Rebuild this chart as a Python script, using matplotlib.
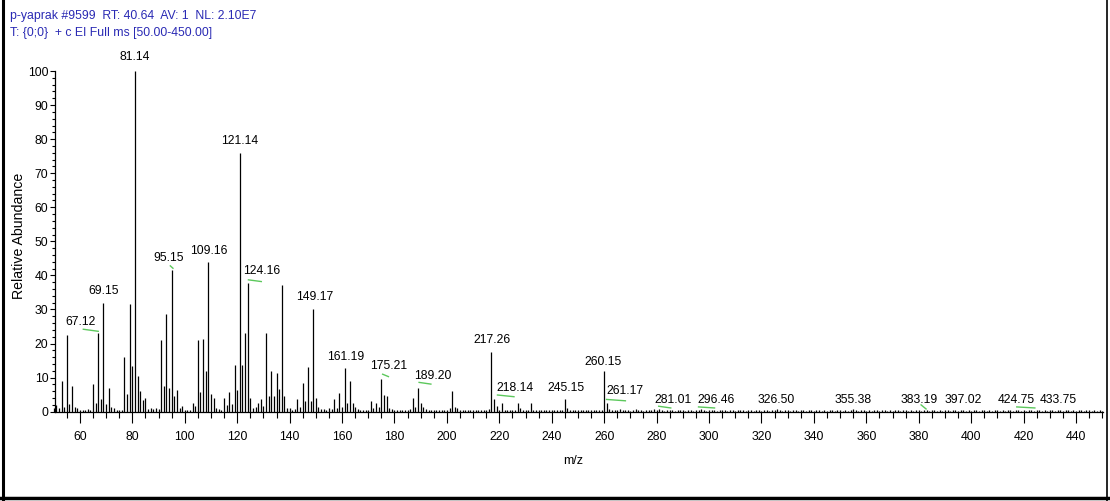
import numpy as np
import matplotlib
matplotlib.use("Agg")
import matplotlib.pyplot as plt
from matplotlib.ticker import MultipleLocator
from matplotlib.lines import Line2D

plt.rcParams['font.family'] = ['Liberation Sans', 'DejaVu Sans']

# relative abundance for every integer m/z, 50 .. 450
ab_050_149 = [
    1.0, 2.0, 1.0, 9.0, 1.3, 22.5, 2.3, 7.5, 1.5, 1.0,
    0.6, 0.5, 0.4, 0.8, 0.5, 8.0, 2.6, 23.0, 3.6, 32.0,
    2.3, 7.0, 1.5, 1.2, 0.5, 0.6, 0.5, 16.2, 5.1, 31.6,
    13.4, 100.0, 10.5, 6.0, 3.4, 3.9, 0.8, 1.0, 0.8, 1.0,
    0.7, 21.0, 7.5, 28.6, 6.9, 41.7, 4.6, 6.4, 1.2, 1.7,
    0.5, 0.5, 0.5, 2.6, 1.7, 21.0, 5.9, 21.4, 11.8, 44.0,
    5.1, 4.1, 1.2, 0.8, 0.5, 3.9, 2.0, 5.9, 2.2, 13.7,
    6.4, 76.0, 13.7, 23.2, 37.9, 3.9, 1.2, 1.5, 2.5, 3.6,
    1.7, 23.2, 4.6, 11.8, 4.6, 11.3, 6.6, 37.2, 4.6, 1.2,
    1.0, 0.5, 0.8, 3.6, 1.5, 8.3, 3.2, 13.2, 3.1, 30.1,
]
ab_150_261 = [
    3.9, 1.3, 0.7, 0.8, 0.5, 1.0, 0.7, 3.7, 1.2, 5.4,
    1.5, 12.7, 2.6, 8.9, 2.5, 1.3, 0.8, 0.5, 0.4, 0.5,
    0.5, 3.0, 1.0, 2.6, 1.5, 9.7, 4.9, 4.7, 1.2, 0.7,
    0.5, 0.4, 0.5, 0.6, 0.4, 0.6, 0.8, 4.1, 1.5, 7.1,
    2.6, 1.3, 0.8, 0.5, 0.4, 0.5, 0.6, 0.4, 0.5, 0.4,
    0.6, 1.2, 6.1, 1.5, 1.0, 0.5, 0.4, 0.6, 0.5, 0.4,
    0.5, 0.4, 0.6, 0.5, 0.4, 0.5, 0.8, 17.6, 3.6, 1.7,
    0.6, 2.6, 0.6, 0.5, 0.4, 0.5, 0.6, 2.6, 1.0, 0.5,
    0.4, 0.5, 2.7, 0.6, 0.4, 0.5, 0.4, 0.6, 0.5, 0.4,
    0.5, 0.4, 0.6, 0.5, 0.4, 3.6, 1.0, 0.6, 0.5, 0.4,
    0.5, 0.6, 0.4, 0.5, 0.4, 0.5, 0.6, 0.4, 0.5, 0.6,
    12.0, 2.6,
]
ab_262_450 = [
    0.9, 0.6, 0.5, 0.4, 0.7, 0.5, 0.4, 0.6, 0.3, 0.5, 0.8, 0.4, 0.5, 0.3, 0.6, 0.4, 0.5, 0.7, 0.4, 0.9,
    0.5, 0.3, 0.6, 0.4, 0.5, 0.3, 0.4, 0.6, 0.5, 0.3, 0.4, 0.5, 0.3, 0.6, 0.4, 0.8, 0.5, 0.3, 0.4, 0.5,
    0.4, 0.3, 0.5, 0.6, 0.4, 0.3, 0.5, 0.4, 0.3, 0.6, 0.4, 0.5, 0.3, 0.4, 0.5, 0.3, 0.4, 0.6, 0.3, 0.4,
    0.5, 0.3, 0.4, 0.6, 0.7, 0.4, 0.3, 0.5, 0.4, 0.3, 0.5, 0.4, 0.3, 0.4, 0.5, 0.3, 0.4, 0.6, 0.3, 0.4,
    0.5, 0.3, 0.4, 0.3, 0.5, 0.4, 0.3, 0.4, 0.5, 0.3, 0.4, 0.3, 0.5, 0.7, 0.4, 0.3, 0.5, 0.4, 0.3, 0.4,
    0.3, 0.5, 0.4, 0.3, 0.4, 0.5, 0.3, 0.4, 0.3, 0.5, 0.4, 0.3, 0.4, 0.5, 0.3, 0.4, 0.3, 0.5, 0.4, 0.3,
    0.4, 0.6, 0.3, 0.4, 0.5, 0.3, 0.4, 0.3, 0.5, 0.4, 0.3, 0.4, 0.5, 0.3, 0.4, 0.6, 0.3, 0.4, 0.3, 0.5,
    0.4, 0.3, 0.4, 0.5, 0.3, 0.4, 0.3, 0.5, 0.4, 0.3, 0.4, 0.3, 0.5, 0.4, 0.3, 0.4, 0.5, 0.3, 0.4, 0.3,
    0.5, 0.4, 0.3, 0.6, 0.4, 0.3, 0.4, 0.3, 0.5, 0.4, 0.3, 0.6, 0.4, 0.3, 0.5, 0.4, 0.3, 0.4, 0.3, 0.5,
    0.4, 0.3, 0.4, 0.5, 0.3, 0.4, 0.3, 0.4, 0.3,
]
mz = np.arange(50, 451)
abundance = np.array(ab_050_149 + ab_150_261 + ab_262_450)

# peak labels
peak_labels = ["81.14", "121.14", "95.15", "109.16", "124.16", "69.15", "67.12",
               "149.17", "161.19", "175.21", "189.20", "217.26", "218.14", "245.15",
               "260.15", "261.17", "281.01", "296.46", "326.50", "355.38", "383.19",
               "397.02", "424.75", "433.75"]
label_x = [80.9, 120.9, 94.0, 109.2, 129.5, 68.9, 60.3, 149.5, 161.5, 177.7, 194.5,
           217.3, 226.0, 245.3, 259.6, 268.0, 286.1, 302.7, 325.7, 355.0, 380.3,
           396.9, 417.1, 433.2]
label_y = [104.0, 79.6, 45.1, 47.1, 41.2, 35.3, 26.2, 33.6, 16.2, 13.4, 10.5, 21.1,
           6.9, 6.9, 14.7, 6.1, 3.4, 3.4, 3.4, 3.4, 3.4, 3.4, 3.4, 3.4]

# green leader marks (x0, x1, y0, y1)
leaders = [(61.3, 67.0, 24.2, 23.6), (94.5, 95.5, 42.8, 42.1), (124.3, 129.2, 38.7, 38.2),
           (175.5, 177.7, 11.0, 10.3), (189.4, 193.9, 8.6, 8.1), (219.3, 225.6, 4.9, 4.4),
           (260.9, 268.1, 3.6, 3.2), (280.8, 285.4, 1.6, 1.1), (296.0, 302.1, 1.4, 1.1),
           (380.9, 382.8, 2.0, 0.8), (417.4, 424.3, 1.4, 1.1)]

W, H = 1110, 501
fig = plt.figure(figsize=(W / 100, H / 100), dpi=100)
ax = fig.add_axes([55 / W, (H - 411.7) / H, 1048 / W, 340.7 / H])

ax.vlines(mz, 0, abundance, colors='black', linewidth=0.9, clip_on=False)

for t, x, y in zip(peak_labels, label_x, label_y):
    ax.text(x, y, t, ha='center', va='center', fontsize=8.7, clip_on=False)
for x0, x1, y0, y1 in leaders:
    ax.plot([x0, x1], [y0, y1], color='#5cc85c', linewidth=1.0, clip_on=False)

ax.set_xlim(50.5, 450.3)
ax.set_ylim(0, 100)
ax.set_xticks(range(60, 441, 20))
ax.xaxis.set_minor_locator(MultipleLocator(5))
ax.set_yticks(range(0, 101, 10))
ax.yaxis.set_minor_locator(MultipleLocator(2))
ax.tick_params(axis='x', which='major', length=8, width=0.8, pad=6, labelsize=8.8)
ax.tick_params(axis='x', which='minor', length=4.2, width=0.8)
ax.tick_params(axis='y', which='major', length=3.3, width=0.8, pad=1.5, labelsize=8.8)
ax.tick_params(axis='y', which='minor', length=2, width=0.8)
for s in ['top', 'right']:
    ax.spines[s].set_visible(False)
for s in ['left', 'bottom']:
    ax.spines[s].set_linewidth(0.9)

fig.text(19 / W, 1 - 236 / H, 'Relative Abundance', rotation=90, ha='center',
         va='center', fontsize=10.2)
fig.text(573 / W, 1 - 461 / H, 'm/z', ha='center', va='center', fontsize=9)

blue = '#2a2ab4'
fig.text(10 / W, 1 - 16.5 / H, 'p-yaprak #9599  RT: 40.64  AV: 1  NL: 2.10E7',
         color=blue, fontsize=8.8, va='center')
fig.text(10 / W, 1 - 33 / H, 'T: {0;0}  + c EI Full ms [50.00-450.00]',
         color=blue, fontsize=8.8, va='center')

# outer frame
fig.add_artist(Line2D([2.5 / W, 2.5 / W], [0, 1], color='black', linewidth=2.2,
                      transform=fig.transFigure))
fig.add_artist(Line2D([1106.5 / W, 1106.5 / W], [0, 1], color='black', linewidth=1.2,
                      transform=fig.transFigure))
fig.add_artist(Line2D([0, 1], [1 - 497.5 / H, 1 - 497.5 / H], color='black',
                      linewidth=2.5, transform=fig.transFigure))

plt.savefig('out.png', dpi=100)
